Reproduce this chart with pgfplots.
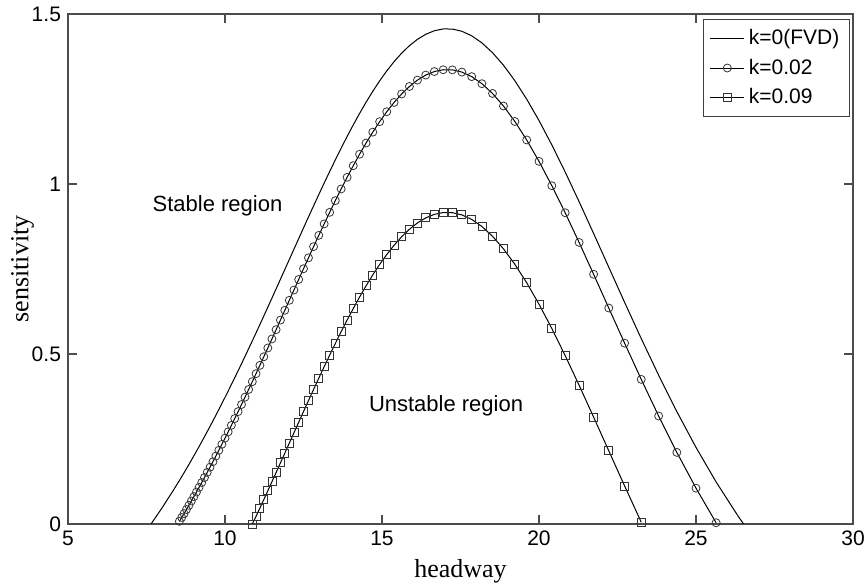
\documentclass[border=0pt]{standalone}
\usepackage{fontspec}
\setmainfont{Liberation Sans}
\newfontfamily\labelfont{Liberation Serif}
\usepackage{pgfplots}
\pgfplotsset{compat=1.18}
\usetikzlibrary{calc}

\begin{document}
\begin{tikzpicture}
\begin{axis}[
  scale only axis, width=392.5pt, height=255pt,
  xmin=5, xmax=30, ymin=0, ymax=1.5,
  xtick={5,10,...,30}, ytick={0,0.5,1,1.5},
  tick align=inside, major tick length=4.5pt,
  axis line style={black!70, line width=0.6pt},
  every tick/.style={black!70, line width=0.6pt},
  tick label style={font=\fontsize{10.5}{12}\selectfont},
  /pgf/number format/assume math mode=true,
  xlabel={headway}, ylabel={sensitivity},
  label style={font=\labelfont\fontsize{13}{15}\selectfont},
  ylabel style={yshift=-8pt},
  legend style={at={(0.996,0.99)}, anchor=north east,
                draw=black!75, line width=0.6pt,
                font=\fontsize{10.5}{12}\selectfont,
                cells={anchor=west}, row sep=1.5pt,
                inner xsep=3pt, inner ysep=3pt},
  legend image code/.code={
    \draw[mark repeat=2, mark phase=2, #1]
      plot coordinates {(0pt,0pt) (8.5pt,0pt) (17pt,0pt)};},
]
\coordinate (SW) at (rel axis cs:0,0);
\coordinate (NE) at (rel axis cs:1,1);

% k = 0 (FVD)
\addplot[black, line width=0.5pt] coordinates {
 (7.645,0) (8.000,0.0481) (8.333,0.0958)
 (8.547,0.1278) (8.621,0.1391) (8.696,0.1507) (8.772,0.1626) (8.850,0.1749)
 (8.929,0.1876) (9.009,0.2005) (9.091,0.2139) (9.174,0.2277) (9.259,0.2419)
 (9.346,0.2566) (9.434,0.2717) (9.524,0.2872) (9.615,0.3031) (9.709,0.3198)
 (9.804,0.3368) (9.901,0.3543) (10.000,0.3724) (10.101,0.3910) (10.204,0.4102)
 (10.309,0.4300) (10.417,0.4505) (10.526,0.4714) (10.638,0.4931) (10.753,0.5156)
 (10.870,0.5386) (10.989,0.5622) (11.111,0.5866) (11.236,0.6118) (11.364,0.6377)
 (11.494,0.6642) (11.628,0.6916) (11.765,0.7197) (11.905,0.7485) (12.048,0.7779)
 (12.195,0.8081) (12.346,0.8391) (12.500,0.8707) (12.658,0.9028) (12.821,0.9357)
 (12.987,0.9689) (13.158,1.0026) (13.333,1.0366) (13.514,1.0710) (13.699,1.1054)
 (13.889,1.1397) (14.085,1.1738) (14.286,1.2075) (14.493,1.2405) (14.706,1.2725)
 (14.925,1.3033) (15.152,1.3326) (15.385,1.3599) (15.625,1.3847) (15.873,1.4068)
 (16.129,1.4255) (16.393,1.4403) (16.667,1.4507) (16.949,1.4560) (17.241,1.4557)
 (17.544,1.4491) (17.857,1.4358) (18.182,1.4150) (18.519,1.3863) (18.868,1.3494)
 (19.231,1.3038) (19.608,1.2495) (20.000,1.1866) (20.408,1.1150) (20.833,1.0354)
 (21.277,0.9481) (21.739,0.8545) (22.222,0.7552) (22.727,0.6518) (23.256,0.5453)
 (23.810,0.4377) (24.390,0.3306) (25.000,0.2253) (25.641,0.1236) (26.316,0.0266)
 (26.515,0)
};
\addlegendentry{k=0(FVD)}

% k = 0.02
\addplot[black, line width=0.5pt, mark=o, mark size=2pt,
         mark options={black!80, line width=0.4pt}] coordinates {
 (8.547,0.0078) (8.621,0.0191) (8.696,0.0307) (8.772,0.0426) (8.850,0.0549)
 (8.929,0.0676) (9.009,0.0805) (9.091,0.0939) (9.174,0.1077) (9.259,0.1219)
 (9.346,0.1366) (9.434,0.1517) (9.524,0.1672) (9.615,0.1831) (9.709,0.1998)
 (9.804,0.2168) (9.901,0.2343) (10.000,0.2524) (10.101,0.2710) (10.204,0.2902)
 (10.309,0.3100) (10.417,0.3305) (10.526,0.3514) (10.638,0.3731) (10.753,0.3956)
 (10.870,0.4186) (10.989,0.4422) (11.111,0.4666) (11.236,0.4918) (11.364,0.5177)
 (11.494,0.5442) (11.628,0.5716) (11.765,0.5997) (11.905,0.6285) (12.048,0.6579)
 (12.195,0.6881) (12.346,0.7191) (12.500,0.7507) (12.658,0.7828) (12.821,0.8157)
 (12.987,0.8489) (13.158,0.8826) (13.333,0.9166) (13.514,0.9510) (13.699,0.9854)
 (13.889,1.0197) (14.085,1.0538) (14.286,1.0875) (14.493,1.1205) (14.706,1.1525)
 (14.925,1.1833) (15.152,1.2126) (15.385,1.2399) (15.625,1.2647) (15.873,1.2868)
 (16.129,1.3055) (16.393,1.3203) (16.667,1.3307) (16.949,1.3360) (17.241,1.3357)
 (17.544,1.3291) (17.857,1.3158) (18.182,1.2950) (18.519,1.2663) (18.868,1.2294)
 (19.231,1.1838) (19.608,1.1295) (20.000,1.0666) (20.408,0.9950) (20.833,0.9154)
 (21.277,0.8281) (21.739,0.7345) (22.222,0.6352) (22.727,0.5318) (23.256,0.4253)
 (23.810,0.3177) (24.390,0.2106) (25.000,0.1053) (25.641,0.0036)
};
\addlegendentry{k=0.02}

% k = 0.09
\addplot[black, line width=0.5pt, mark=square, mark size=2pt,
         mark options={black!80, line width=0.4pt}] coordinates {
 (10.870,0.0000) (10.989,0.0222) (11.111,0.0466) (11.236,0.0718) (11.364,0.0977)
 (11.494,0.1242) (11.628,0.1516) (11.765,0.1797) (11.905,0.2085) (12.048,0.2379)
 (12.195,0.2681) (12.346,0.2991) (12.500,0.3307) (12.658,0.3628) (12.821,0.3957)
 (12.987,0.4289) (13.158,0.4626) (13.333,0.4966) (13.514,0.5310) (13.699,0.5654)
 (13.889,0.5997) (14.085,0.6338) (14.286,0.6675) (14.493,0.7005) (14.706,0.7325)
 (14.925,0.7633) (15.152,0.7926) (15.385,0.8199) (15.625,0.8447) (15.873,0.8668)
 (16.129,0.8855) (16.393,0.9003) (16.667,0.9107) (16.949,0.9160) (17.241,0.9157)
 (17.544,0.9091) (17.857,0.8958) (18.182,0.8750) (18.519,0.8463) (18.868,0.8094)
 (19.231,0.7638) (19.608,0.7095) (20.000,0.6466) (20.408,0.5750) (20.833,0.4954)
 (21.277,0.4081) (21.739,0.3145) (22.222,0.2152) (22.727,0.1118) (23.256,0.0053)
};
\addlegendentry{k=0.09}

\node[font=\fontsize{11}{13}\selectfont] at (axis cs:9.76,0.935) {Stable region};
\node[font=\fontsize{11}{13}\selectfont] at (axis cs:17.04,0.347) {Unstable region};
\end{axis}
\pgfresetboundingbox
\path[use as bounding box] ($(SW)+(-34pt,-31.5pt)$) rectangle ($(NE)+(7.5pt,7pt)$);
\end{tikzpicture}
\end{document}
